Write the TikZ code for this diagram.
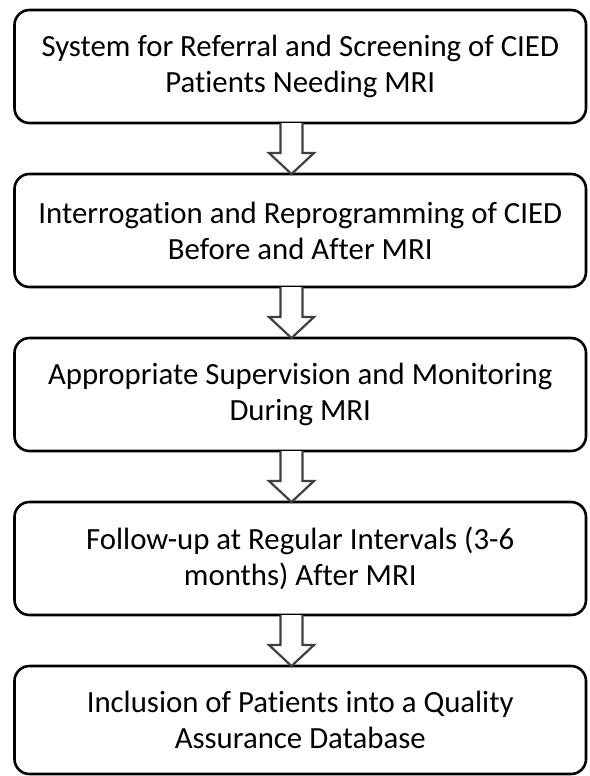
\documentclass[tikz,border=0pt]{standalone}
\usepackage{fontspec}
\setmainfont{Carlito}[Ligatures=NoCommon]
\usepackage{tikz}
\usetikzlibrary{calc,positioning}

\tikzset{
  stepbox/.style={draw=black, line width=2.6pt, rounded corners=15pt, outer sep=0pt,
    minimum width=571.5pt, minimum height=113pt, align=center, inner sep=0pt,
    font=\fontsize{30.8}{36}\selectfont},
  hollowarrow/.style={draw=black!75, fill=white, line width=2.2pt, line join=miter}
}

\begin{document}
\begin{tikzpicture}[x=1pt,y=1pt,node distance=51pt]
			\useasboundingbox (0,0) rectangle (589,-776);
			\node[stepbox] (refer) at (300.25,-66.5) {System for Referral and Screening of CIED\\Patients Needing MRI};
			\node[stepbox] [below=of refer] (interrog) {Interrogation and Reprogramming of CIED\\Before and After MRI};
			\node[stepbox] [below=of interrog] (monitor) {Appropriate Supervision and Monitoring\\During MRI};
			\node[stepbox] [below=of monitor] (followup) {Follow-up at Regular Intervals (3-6\\months) After MRI};
			\node[stepbox,minimum height=108pt] [below=of followup] (database) {Inclusion of Patients into a Quality\\Assurance Database};
			\foreach \a/\b in {refer/interrog,interrog/monitor,monitor/followup,followup/database}
				\draw[hollowarrow] ($(\a.south)+(-19.75,0)$) -- ++(0,-30) -- ++(-11.5,0)
					-- ($(\b.north)+(-8.75,0)$) -- ++(22.5,21) -- ++(-11.5,0) -- ($(\a.south)+(2.25,0)$);
		\end{tikzpicture}
\end{document}
